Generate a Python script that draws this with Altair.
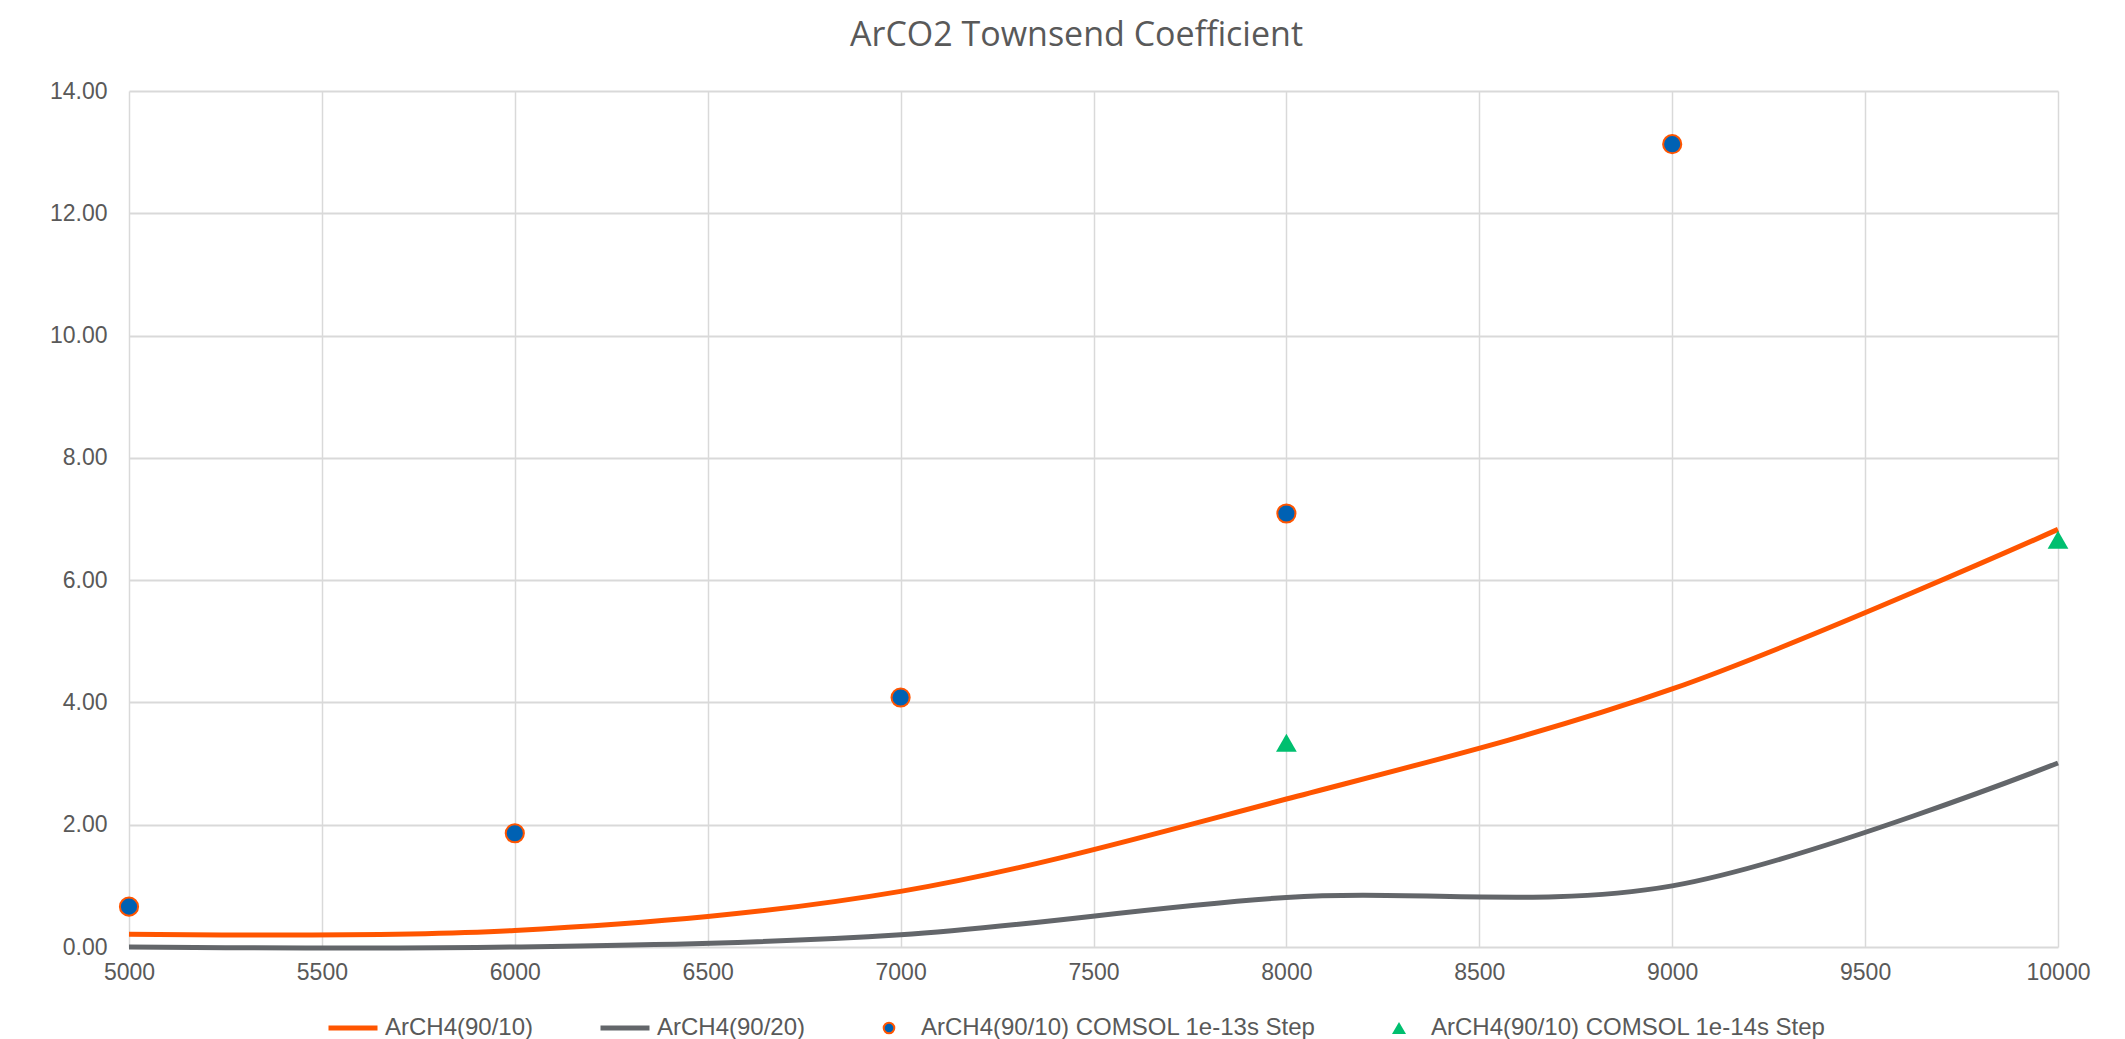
import altair as alt
import pandas as pd

# Series names
S_LINE1 = "ArCH4(90/10)"
S_LINE2 = "ArCH4(90/20)"
S_PT13 = "ArCH4(90/10) COMSOL 1e-13s Step"
S_PT14 = "ArCH4(90/10) COMSOL 1e-14s Step"
SERIES = [S_LINE1, S_LINE2, S_PT13, S_PT14]

# Townsend coefficient curves (smoothed lines)
voltage = [5000, 6000, 7000, 8000, 9000, 10000]
arch4_90_10 = [0.21, 0.27, 0.91, 2.42, 4.22, 6.83]
arch4_90_20 = [0.0, 0.0, 0.2, 0.81, 1.0, 3.01]

# COMSOL simulation points
comsol_13_x = [5000, 6000, 7000, 8000, 9000]
comsol_13_y = [0.66, 1.86, 4.08, 7.09, 13.13]
comsol_14_x = [8000, 10000]
comsol_14_y = [3.34, 6.66]

x_ticks = list(range(5000, 10001, 500))
y_ticks = list(range(0, 15, 2))

ORANGE = "#FF5500"
GRAY = "#63666A"
BLUE = "#0061B3"
GREEN = "#00BF6F"
TEXT = "#595959"
GRID = "#D9D9D9"

lines_df = pd.DataFrame(
    {"x": voltage * 2,
     "y": arch4_90_10 + arch4_90_20,
     "series": [S_LINE1] * len(voltage) + [S_LINE2] * len(voltage)}
)
circ_df = pd.DataFrame({"x": comsol_13_x, "y": comsol_13_y, "series": [S_PT13] * len(comsol_13_x)})
tri_df = pd.DataFrame({"x": comsol_14_x, "y": comsol_14_y, "series": [S_PT14] * len(comsol_14_x)})

stroke_scale = alt.Scale(domain=SERIES, range=[ORANGE, GRAY, ORANGE, GREEN])
fill_scale = alt.Scale(domain=SERIES, range=[ORANGE, GRAY, BLUE, GREEN])
shape_scale = alt.Scale(domain=SERIES, range=["stroke", "stroke", "circle", "triangle-up"])

# per-entry legend symbol styling (lines drawn as strokes, markers as shapes)
is_line = f"(datum.value == '{S_LINE1}' || datum.value == '{S_LINE2}')"
is_circ = f"(datum.value == '{S_PT13}')"


def pick(line_v, circ_v, tri_v):
    return alt.ExprRef(expr=f"{is_line} ? {line_v} : ({is_circ} ? {circ_v} : {tri_v})")


legend = alt.Legend(
    title=None,
    orient="none",
    legendX=197,
    legendY=925,
    direction="horizontal",
    columns=4,
    columnPadding=56,
    padding=0,
    symbolType=pick("'stroke'", "'circle'", "'triangle-up'"),
    symbolSize=pick(2401, 113, 196),
    symbolStrokeWidth=pick(5, 2, 0),
    symbolFillColor=pick("'transparent'", f"'{BLUE}'", f"'{GREEN}'"),
    symbolStrokeColor=pick(f"datum.value == '{S_LINE1}' ? '{ORANGE}' : '{GRAY}'", f"'{ORANGE}'", f"'{GREEN}'"),
    symbolOpacity=1,
    symbolOffset=15,
    labelOffset=20,
    labelFont="Liberation Sans",
    labelFontSize=24,
    labelColor=TEXT,
    labelLimit=600,
)

x_enc = alt.X(
    "x:Q",
    scale=alt.Scale(domain=[5000, 10000], nice=False, zero=False),
    axis=alt.Axis(values=x_ticks, format="d", title=None),
)
y_enc = alt.Y(
    "y:Q",
    scale=alt.Scale(domain=[0, 14], nice=False),
    axis=alt.Axis(values=y_ticks, format=".2f", title=None),
)

lines = alt.Chart(lines_df).mark_line(
    strokeWidth=5, interpolate="cardinal", tension=0
).encode(
    x=x_enc,
    y=y_enc,
    stroke=alt.Stroke("series:N", scale=stroke_scale, legend=legend),
    detail="series:N",
)

circles = alt.Chart(circ_df).mark_point(
    filled=True, opacity=1, size=330, strokeWidth=2
).encode(
    x=x_enc,
    y=y_enc,
    fill=alt.Fill("series:N", scale=fill_scale, legend=None),
    stroke=alt.Stroke("series:N", scale=stroke_scale, legend=legend),
    shape=alt.Shape("series:N", scale=shape_scale, legend=None),
)

triangles = alt.Chart(tri_df).mark_point(
    filled=True, opacity=1, size=430, strokeWidth=0
).encode(
    x=x_enc,
    y=y_enc,
    fill=alt.Fill("series:N", scale=fill_scale, legend=None),
    stroke=alt.Stroke("series:N", scale=stroke_scale, legend=legend),
    shape=alt.Shape("series:N", scale=shape_scale, legend=None),
)

chart = (
    alt.layer(lines, circles, triangles)
    .properties(
        width=1929,
        height=856,
        autosize=alt.AutoSizeParams(type="none"),
        padding={"left": 129, "top": 91, "right": 67, "bottom": 92},
        title=alt.TitleParams(
            "ArCO2 Townsend Coefficient",
            font="Open Sans",
            fontSize=34,
            fontWeight="normal",
            color=TEXT,
            anchor="middle",
            baseline="alphabetic",
            offset=0,
            dx=-17,
        ),
    )
    .configure_view(stroke=None)
    .configure_axis(
        domain=False,
        ticks=False,
        grid=True,
        gridColor=GRID,
        gridWidth=1.5,
        labelFont="Liberation Sans",
        labelFontSize=23,
        labelColor=TEXT,
        labelFlush=False,
    )
    .configure_axisX(labelPadding=14)
    .configure_axisY(labelPadding=22, gridWidth=2)
)

chart.save("out.html", embed_options={"renderer": "svg", "actions": False})
